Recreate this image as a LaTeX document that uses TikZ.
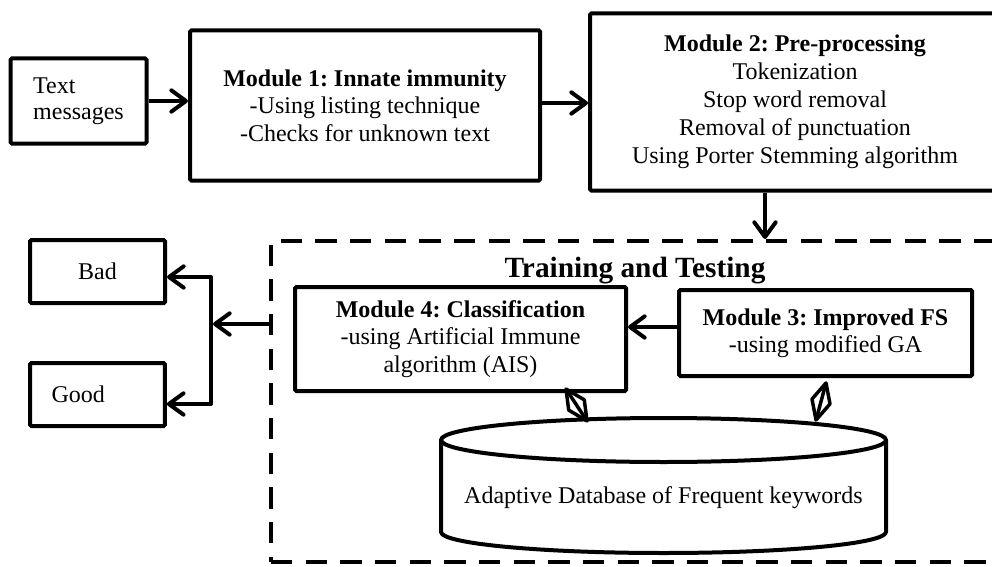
\documentclass[tikz,border=0pt]{standalone}
\usepackage{fontspec}
\setmainfont{Liberation Serif}
\usetikzlibrary{arrows.meta,calc}
\frenchspacing
\begin{document}
\begin{tikzpicture}[x=0.75pt,y=-0.75pt,
  every node/.style={font=\fontsize{18}{20.5}\selectfont},
  box/.style={draw, line width=3pt, rounded corners=1pt, align=center, inner sep=0pt},
  barb/.tip={Straight Barb[length=11pt,width=16pt,line cap=round,line join=round]},
  conn/.style={line width=3pt, -barb},
  dbl/.style={line width=2.6pt, line join=round},
  thick line/.style={line width=3pt, line join=round}
  ]
\useasboundingbox (0,0) rectangle (992,567);
\clip (0,0) rectangle (992,567);

% top row
\node[box, align=left, minimum width=102pt, minimum height=63.75pt,
      font=\fontsize{18}{19.5}\selectfont] (tm) at (78.5,101) {Text\\messages};
\node[box, minimum width=262.5pt, minimum height=112.5pt] (m1) at (365,105.5)
  {\textbf{Module 1: Innate immunity}\\-Using listing technique\\-Checks for unknown text};
\node[box, minimum width=307.5pt, minimum height=132.75pt, font=\fontsize{18}{21}\selectfont] (m2) at (795,102)
  {\textbf{Module 2: Pre-processing}\\Tokenization\\Stop word removal\\Removal of punctuation\\Using Porter Stemming algorithm};

% training and testing region
\node[draw, line width=3pt, dash pattern=on 16pt off 10pt, minimum width=554.25pt, minimum height=240.75pt,
      inner sep=0pt] (tt) at (640.5,401.5) {};
\node[anchor=base, font=\fontsize{22}{24}\selectfont\bfseries] (ttl) at (635,277) {Training and Testing};

\node[box, minimum width=248.25pt, minimum height=78pt, font=\fontsize{18}{20.7}\selectfont] (m4) at (460.5,339)
  {\textbf{Module 4: Classification}\\-using Artificial Immune\\algorithm (AIS)};
\node[box, minimum width=219.75pt, minimum height=64.5pt] (m3) at (825.5,333)
  {\textbf{Module 3: Improved FS}\\-using modified GA};

% database cylinder
\draw[thick line] (441,440) -- (441,532) arc (180:0:222.5 and 21) -- (886,440);
\draw[thick line] (663.5,440) ellipse (222.5 and 22);
\node (db) at (663.5,498) {Adaptive Database of Frequent keywords};

% outputs
\node[box, minimum width=101.25pt, minimum height=47.25pt] (bad) at (97.5,271.5) {Bad};
\node[box, align=left, text width=69pt, inner xsep=16pt, minimum height=47.25pt] (good) at (97.5,394.5) {Good};

% connectors
\draw[conn] (tm.east) -- (tm.east -| m1.west);
\coordinate (y103) at (0,103);
\draw[conn] (m1.east |- y103) -- (m2.west |- y103);
\coordinate (m2o) at ($(m2.south)+(-30,0)$);
\draw[conn] (m2o) -- (m2o |- tt.north);
\coordinate (y327) at (0,327);
\draw[conn] (m3.west |- y327) -- (m4.east |- y327);

\coordinate (jt) at (211,277);
\coordinate (jm) at (211,324);
\coordinate (jb) at (211,404);
\draw[conn, shorten >=1.5pt] (tt.west |- jm) -- (jm);
\draw[thick line, barb-barb] (jt -| bad.east) -- (jt) -- (jb) -- (jb -| good.east);

% double-headed (diamond) connectors between modules and database
\coordinate (d1a) at (566,389);
\coordinate (d1b) at (587,421);
\coordinate (d2a) at (826,383);
\coordinate (d2b) at (816,420);
\coordinate (d1m) at ($(d1a)!0.5!(d1b)$);
\coordinate (d2m) at ($(d2a)!0.5!(d2b)$);
\draw[dbl] (d1a) -- ($(d1m)!7pt!90:(d1b)$) -- (d1b) -- ($(d1m)!7pt!-90:(d1b)$) -- cycle;
\draw[dbl] (d1a) -- (d1b);
\draw[dbl] (d2a) -- ($(d2m)!7pt!90:(d2b)$) -- (d2b) -- ($(d2m)!7pt!-90:(d2b)$) -- cycle;
\draw[dbl] (d2a) -- (d2b);
\end{tikzpicture}
\end{document}
